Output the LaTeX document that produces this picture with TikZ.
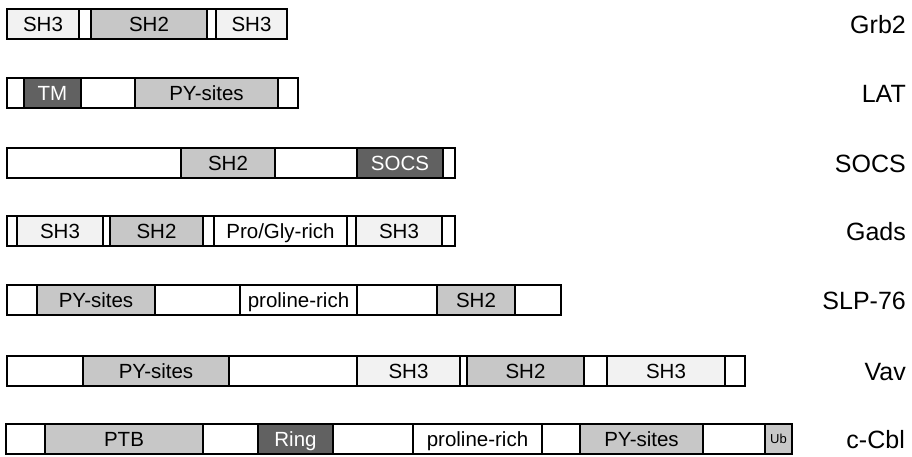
\documentclass[tikz,border=0pt]{standalone}
\usepackage{fontspec}
\setmainfont{Liberation Sans}
\tikzset{
  dombox/.style={draw=black, line width=1.3pt, fill=white, inner sep=0pt, outer sep=0pt,
    minimum height=30pt, anchor=west, text height=14.8pt, text depth=0pt,
    font=\fontsize{20.5}{22}\selectfont},
  light/.style={fill=black!22},
  dark/.style={fill=black!62, text=white},
  shthree/.style={fill=black!5},
  plain/.style={},
  ubbox/.style={fill=black!22, font=\fontsize{13}{14}\selectfont, text height=9.4pt},
  protlabel/.style={anchor=east, inner sep=0pt, text height=18pt, text depth=0pt,
    font=\fontsize{25}{28}\selectfont},
}
\newcommand\dom[6]{\node[dombox,#5,minimum width={(#3)-(#2)}] (#1) at (#2,#4) {#6};}
\begin{document}
\begin{tikzpicture}[x=1pt,y=-1pt]
\useasboundingbox (0,0) rectangle (912,456);
% Grb2
\dom{g1}{7}{79}{24}{shthree}{SH3}
\dom{g2}{79}{91}{24}{plain}{}
\dom{g3}{91}{207}{24}{light}{SH2}
\dom{g4}{207}{216}{24}{plain}{}
\dom{g5}{216}{287}{24}{shthree}{SH3}
\node[protlabel] (lg) at (906,24) {Grb2};
% LAT
\dom{l1}{7}{24}{93}{plain}{}
\dom{l2}{24}{81}{93}{dark}{TM}
\dom{l3}{81}{135}{93}{plain}{}
\dom{l4}{135}{278}{93}{light}{PY-sites}
\dom{l5}{278}{298}{93}{plain}{}
\node[protlabel] (ll) at (906,93) {LAT};
% SOCS
\dom{s1}{7}{181}{163}{plain}{}
\dom{s2}{181}{275}{163}{light}{SH2}
\dom{s3}{275}{357}{163}{plain}{}
\dom{s4}{357}{443}{163}{dark}{SOCS}
\dom{s5}{443}{455}{163}{plain}{}
\node[protlabel] (ls) at (906,163) {SOCS};
% Gads
\dom{d1}{7}{17}{231}{plain}{}
\dom{d2}{17}{103}{231}{shthree}{SH3}
\dom{d3}{103}{110}{231}{plain}{}
\dom{d4}{110}{203}{231}{light}{SH2}
\dom{d5}{203}{214}{231}{plain}{}
\dom{d6}{214}{347}{231}{plain}{Pro/Gly-rich}
\dom{d7}{347}{356}{231}{plain}{}
\dom{d8}{356}{442}{231}{shthree}{SH3}
\dom{d9}{442}{455}{231}{plain}{}
\node[protlabel] (ld) at (906,231) {Gads};
% SLP-76
\dom{p1}{7}{37}{300}{plain}{}
\dom{p2}{37}{155}{300}{light}{PY-sites}
\dom{p3}{155}{240}{300}{plain}{}
\dom{p4}{240}{357}{300}{plain}{proline-rich}
\dom{p5}{357}{437}{300}{plain}{}
\dom{p6}{437}{515}{300}{light}{SH2}
\dom{p7}{515}{561}{300}{plain}{}
\node[protlabel] (lp) at (906,300) {SLP-76};
% Vav
\dom{v1}{7}{83}{371}{plain}{}
\dom{v2}{83}{229}{371}{light}{PY-sites}
\dom{v3}{229}{357}{371}{plain}{}
\dom{v4}{357}{460}{371}{shthree}{SH3}
\dom{v5}{460}{467}{371}{plain}{}
\dom{v6}{467}{584}{371}{light}{SH2}
\dom{v7}{584}{607}{371}{plain}{}
\dom{v8}{607}{725}{371}{shthree}{SH3}
\dom{v9}{725}{745}{371}{plain}{}
\node[protlabel] (lv) at (906,371) {Vav};
% c-Cbl
\dom{c1}{6}{45}{439}{plain}{}
\dom{c2}{45}{203}{439}{light}{PTB}
\dom{c3}{203}{258}{439}{plain}{}
\dom{c4}{258}{333}{439}{dark}{Ring}
\dom{c5}{333}{413}{439}{plain}{}
\dom{c6}{413}{542}{439}{plain}{proline-rich}
\dom{c7}{542}{580}{439}{plain}{}
\dom{c8}{580}{703}{439}{light}{PY-sites}
\dom{c9}{703}{765}{439}{plain}{}
\dom{c10}{765}{792}{439}{ubbox}{Ub}
\node[protlabel] (lc) at (905,439) {c-Cbl};
\end{tikzpicture}
\end{document}
